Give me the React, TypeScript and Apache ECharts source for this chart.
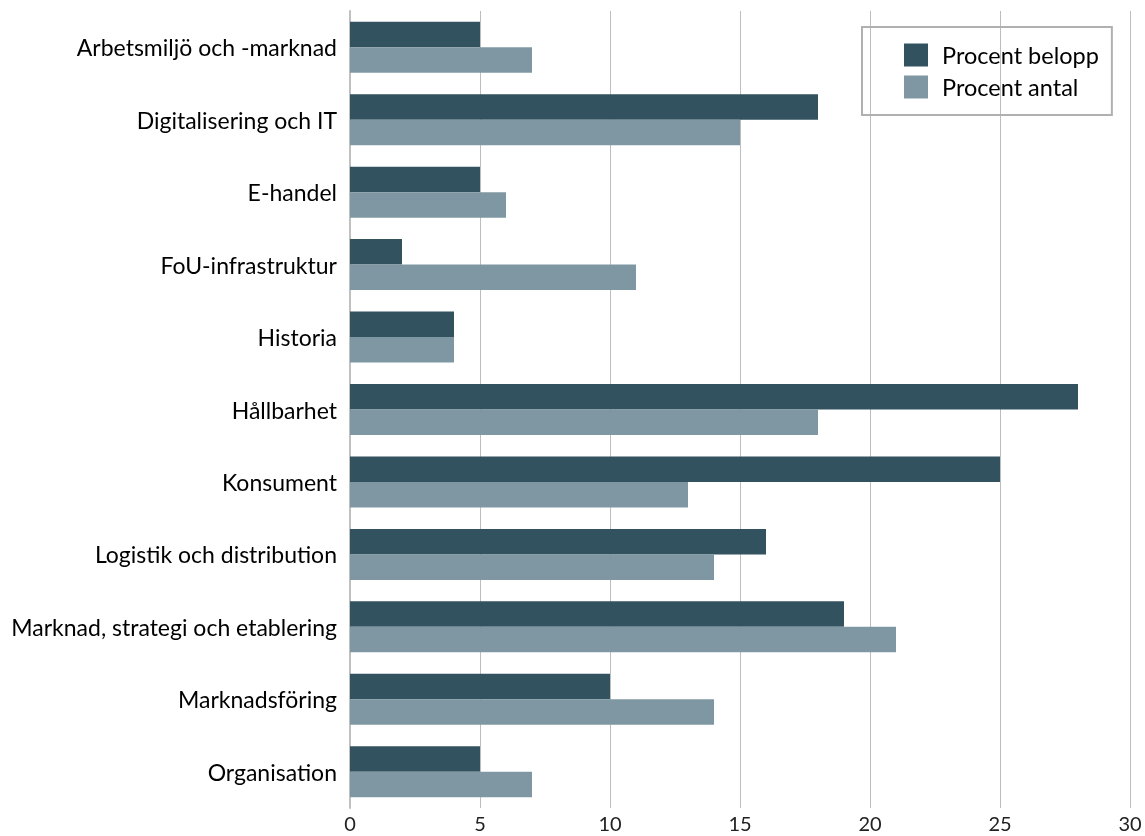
import React, { useEffect, useRef } from "react";
import * as echarts from "echarts";

const categories = [
  "Arbetsmiljö och -marknad",
  "Digitalisering och IT",
  "E-handel",
  "FoU-infrastruktur",
  "Historia",
  "Hållbarhet",
  "Konsument",
  "Logistik och distribution",
  "Marknad, strategi och etablering",
  "Marknadsföring",
  "Organisation",
];
const procentBelopp = [5, 18, 5, 2, 4, 28, 25, 16, 19, 10, 5];
const procentAntal = [7, 15, 6, 11, 4, 18, 13, 14, 21, 14, 7];
const xTicks = [0, 5, 10, 15, 20, 25, 30];

const FONT = "Lato, 'Open Sans', sans-serif";

export default function App() {
  const ref = useRef<HTMLDivElement>(null);
  useEffect(() => {
    if (!ref.current) return;
    const chart = echarts.init(ref.current, undefined, { renderer: "svg" });
    chart.setOption({
      animation: false,
      textStyle: { fontFamily: FONT },
      grid: { left: 350, right: 15, top: 11, bottom: 28, containLabel: false },
      legend: {
        orient: "vertical",
        left: 862,
        top: 27,
        padding: [16, 13, 16, 42],
        itemWidth: 24,
        itemHeight: 23,
        itemGap: 8,
        borderColor: "#b0b0b0",
        borderWidth: 2,
        textStyle: { fontFamily: FONT, fontSize: 23.5, color: "#000", padding: [0, 0, 0, 9] },
        icon: "rect",
        data: ["Procent belopp", "Procent antal"],
      },
      xAxis: {
        type: "value",
        min: xTicks[0],
        max: xTicks[xTicks.length - 1],
        interval: 5,
        axisLine: { show: false },
        axisTick: { show: false },
        splitLine: { show: true, lineStyle: { color: "#bdbdbd", width: 1 } },
        axisLabel: { fontFamily: FONT, fontSize: 20, color: "#222", margin: 5 },
      },
      yAxis: {
        type: "category",
        inverse: true,
        data: categories,
        axisLine: { show: true, lineStyle: { color: "#c0c0c0", width: 2 } },
        axisTick: { show: false },
        axisLabel: { fontFamily: FONT, fontSize: 23, color: "#000", margin: 13 },
      },
      series: [
        {
          name: "Procent belopp",
          type: "bar",
          data: procentBelopp,
          itemStyle: { color: "#33525f" },
          barWidth: 25.5,
          barGap: "0%",
        },
        {
          name: "Procent antal",
          type: "bar",
          data: procentAntal,
          itemStyle: { color: "#7f97a2" },
          barWidth: 25.5,
          barGap: "0%",
        },
      ],
    });
    return () => chart.dispose();
  }, []);
  return (
    <div
      ref={ref}
      style={{ position: "fixed", left: 0, top: 0, width: 1145, height: 836 }}
    />
  );
}
